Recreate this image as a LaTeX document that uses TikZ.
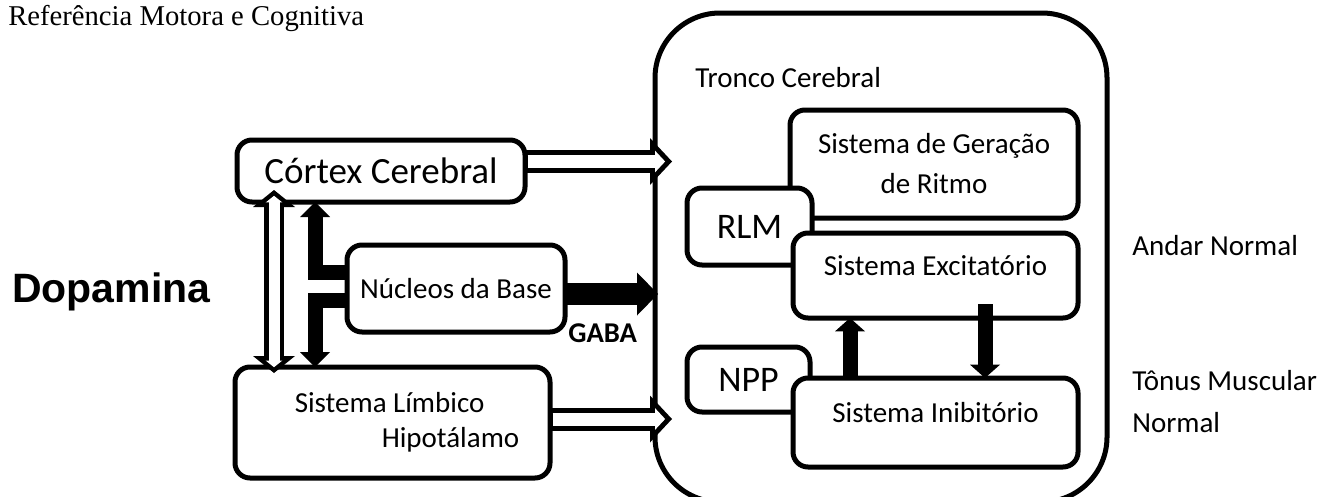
\documentclass[tikz,border=0pt]{standalone}
\usepackage{fontspec}
\setmainfont{Carlito}
\newfontfamily\serifhead{Liberation Serif}
\newfontfamily\arialhead{Liberation Sans}
\usetikzlibrary{arrows.meta,calc}

\tikzset{
  box/.style={draw,line width=3.75pt,rounded corners=11.25pt,fill=white,outer sep=0pt,
    inner sep=0pt,align=center,font=\fontsize{21.75}{30}\selectfont},
  txt/.style={inner sep=0pt,anchor=base west,align=left,font=\fontsize{21.75}{31.5}\selectfont},
  blackarrow/.style={line width=11.25pt,line join=miter,
    -{Triangle[length=11.25pt,width=22.5pt,line width=0pt]}},
  blackbig/.style={line width=16.5pt,-{Triangle[length=15.75pt,width=32.25pt,line width=0pt]}},
  blacksmall/.style={line width=11.25pt,-{Triangle[length=10pt,width=22.5pt,line width=0pt]}},
  hollowout/.style={line width=17.25pt,-{Triangle[length=16.5pt,width=35.25pt,line width=0pt]}},
  hollowin/.style={white,line width=9.75pt,shorten <=1.9pt,shorten >=5.15pt,
    -{Triangle[length=7.6pt,width=16.3pt,line width=0pt]}},
  hollowvout/.style={line width=15pt,
    {Triangle[length=12.75pt,width=31.5pt,line width=0pt]}-{Triangle[length=12.75pt,width=31.5pt,line width=0pt]}},
  hollowvin/.style={white,line width=8.25pt,shorten <=4.35pt,shorten >=4.35pt,
    {Triangle[length=5pt,width=12.5pt,line width=0pt]}-{Triangle[length=5pt,width=12.5pt,line width=0pt]}}
}

\begin{document}
\begin{tikzpicture}[x=0.75pt,y=-0.75pt]
  \useasboundingbox (0,0) rectangle (1326,496);
  \clip (0,0) rectangle (1326,496);
  \node[box,minimum width=339pt,minimum height=366.75pt,rounded corners=48.75pt] (tronco) at (881,257.5) {};
  \node[txt] (trlabel) at (695,87) {Tronco Cerebral};
  \node[box,minimum width=216pt,minimum height=81pt] (ritmo) at (934,164) {Sistema de Geração\\de Ritmo};
  \node[box,minimum width=93.75pt,minimum height=57.75pt,font=\fontsize{27}{32}\selectfont] (rlm) at (749.5,226.5) {RLM};
  \node[box,minimum width=213.75pt,minimum height=63.75pt,text height=12pt,text depth=12pt] (excit) at (935.5,275.5) {Sistema Excitatório};
  \node[box,minimum width=92.25pt,minimum height=48.75pt,font=\fontsize{27}{32}\selectfont] (npp) at (748.5,379.5) {NPP};
  \node[box,minimum width=213.75pt,minimum height=66.75pt,text height=12pt,text depth=12pt] (inib) at (935.5,422.5) {Sistema Inibitório};
  \node[box,minimum width=216pt,minimum height=46.5pt,font=\fontsize{27.75}{33}\selectfont] (cortex) at (381,171) {Córtex Cerebral};
  \node[box,minimum width=163.5pt,minimum height=65.25pt] (nucleos) at (456,288.5) {Núcleos da Base};
  \node[box,minimum width=236.25pt,minimum height=83.25pt,align=left,font=\fontsize{21.75}{26.25}\selectfont] (limbico) at (392.5,422.5)
    {\hspace*{1em}Sistema Límbico\\\hspace*{4em}Hipotálamo};
  \node[txt,font=\serifhead\fontsize{21.5}{26}\selectfont] (titulo) at (8,25) {Referência Motora e Cognitiva};
  \node[txt,font=\arialhead\bfseries\fontsize{30.75}{36}\selectfont] (dopa) at (12,302) {Dopamina};
  \node[txt,font=\bfseries\fontsize{21.5}{26}\selectfont] (gaba) at (568,342) {GABA};
  \node[txt] (andar) at (1132,255) {Andar Normal};
  \node[txt] (tonus) at (1132,432) {Tônus Muscular\\Normal};

  \draw[hollowout] ($(cortex.east)+(0,-9.5)$) -- ($(cortex.east -| tronco.west)+(17,-9.5)$);
  \draw[hollowin]  ($(cortex.east)+(0,-9.5)$) -- ($(cortex.east -| tronco.west)+(17,-9.5)$);
  \draw[hollowout] ($(limbico.east)+(0,-3.5)$) -- ($(limbico.east -| tronco.west)+(17,-3.5)$);
  \draw[hollowin]  ($(limbico.east)+(0,-3.5)$) -- ($(limbico.east -| tronco.west)+(17,-3.5)$);
  \draw[blackbig] ($(nucleos.east)+(0,5.5)$) -- ($(nucleos.east -| tronco.west)+(3,5.5)$);

  \draw[hollowvout] ($(cortex.south west)+(37,-12)$) -- ($(limbico.north west)+(39,6)$);
  \draw[hollowvin]  ($(cortex.south west)+(37,-12)$) -- ($(limbico.north west)+(39,6)$);
  \draw[blackarrow] ($(nucleos.west)+(0,-16.5)$) -| ($(cortex.south west)+(78,0)$);
  \draw[blackarrow] ($(nucleos.west)+(0,11.5)$) -| ($(limbico.north west)+(80,0)$);

  \draw[blacksmall] ($(inib.north west)+(57,0)$) -- ($(excit.south west)+(57,0)$);
  \draw[blacksmall] ($(excit.south west)+(192,-14)$) -- ($(inib.north west)+(192,0)$);
\end{tikzpicture}
\end{document}
